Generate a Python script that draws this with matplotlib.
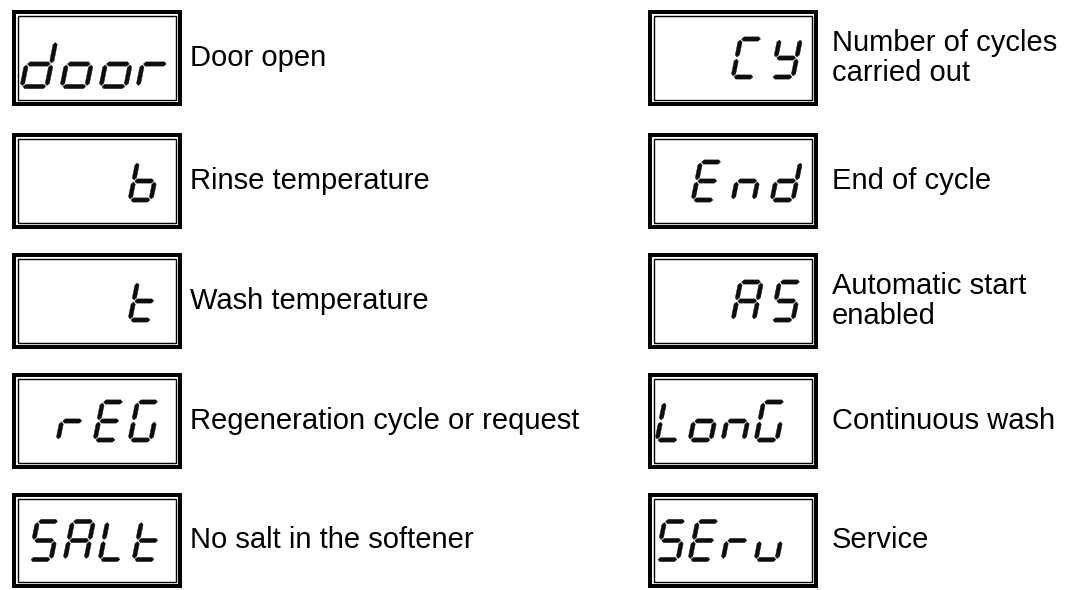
import matplotlib
matplotlib.use("Agg")
import matplotlib.pyplot as plt
from matplotlib.patches import Polygon, Rectangle

# ---------------- data ----------------
left_codes = ["door", "b", "t", "rEG", "SALt"]
left_labels = ["Door open", "Rinse temperature", "Wash temperature",
               "Regeneration cycle or request", "No salt in the softener"]
right_codes = ["Cy", "End", "AS", "LonG", "SEru"]
right_labels = ["Number of cycles\ncarried out", "End of cycle",
                "Automatic start\nenabled", "Continuous wash", "Service"]

# seven-segment glyph definitions (segments a..g)
SEGMENTS = {
    "d": "bcdeg", "o": "cdeg", "r": "eg", "b": "cdefg", "t": "defg",
    "C": "adef", "y": "bcdfg", "E": "adefg", "n": "ceg", "A": "abcefg",
    "S": "acdfg", "L": "def", "G": "acdef", "u": "cde",
}

# ---------------- layout ----------------
W, H = 1080, 590
fig = plt.figure(figsize=(W / 100, H / 100), dpi=100)
ax = fig.add_axes([0, 0, 1, 1])
ax.set_xlim(0, W)
ax.set_ylim(H, 0)
ax.axis("off")

row_tops = [10, 133, 253, 373, 493]
box_h = 96
left_box_x = (12, 182)
right_box_x = (648, 818)
left_slots = [21, 58, 95, 130]
right_slots = [653, 693, 733, 772]
layout_left = {
    "door": dict(slots=[22, 62, 101, 138], h=45, dy=6),
    "SALt": dict(slots=[30, 65, 100, 134], h=38, dy=0),
}
layout_right = {
    "LonG": dict(slots=[657, 690, 723, 756], h=38, dy=0),
    "SEru": dict(slots=[657, 690, 723, 756], h=38, dy=0),
}
PX = 72 / 100  # points per pixel


def draw_box(x0, x1, y0, y1):
    ax.add_patch(Rectangle((x0 + 2, y0 + 2), x1 - x0 - 4, y1 - y0 - 4,
                           fill=False, lw=4 * PX, ec="black"))
    ax.add_patch(Rectangle((x0 + 6, y0 + 6), x1 - x0 - 12, y1 - y0 - 12,
                           fill=False, lw=1.4 * PX, ec="black"))


def seg_poly(p0, p1, t):
    (x0, y0), (x1, y1) = p0, p1
    if y0 == y1:  # horizontal
        return [(x0, y0), (x0 + t / 2, y0 + t / 2), (x1 - t / 2, y0 + t / 2),
                (x1, y0), (x1 - t / 2, y0 - t / 2), (x0 + t / 2, y0 - t / 2)]
    return [(x0, y0), (x0 + t / 2, y0 + t / 2), (x0 + t / 2, y1 - t / 2),
            (x1, y1), (x0 - t / 2, y1 - t / 2), (x0 - t / 2, y0 + t / 2)]


def draw_digit(ch, left, bottom, h, slant=0.2, t=4.2):
    w = 0.55 * h
    g = 1.0
    segs = {
        "a": ((g, h), (w - g, h)),
        "b": ((w, h / 2 + g), (w, h - g)),
        "c": ((w, g), (w, h / 2 - g)),
        "d": ((g, 0), (w - g, 0)),
        "e": ((0, g), (0, h / 2 - g)),
        "f": ((0, h / 2 + g), (0, h - g)),
        "g": ((g, h / 2), (w - g, h / 2)),
    }
    for s in SEGMENTS[ch]:
        pts = seg_poly(*segs[s], t)
        pts = [(left + x + slant * y, bottom - y) for x, y in pts]
        ax.add_patch(Polygon(pts, closed=True, fc="#0d0d0d", ec="#0d0d0d",
                             lw=0.3, joinstyle="round"))


def draw_code(code, slots, yc, h):
    for ch, sx in zip(code, slots[-len(code):]):
        draw_digit(ch, sx, yc + h / 2, h)


font = ["Liberation Sans", "DejaVu Sans"]


def draw_column(codes, labels, box_x, slots, special, text_x):
    for i, (code, label) in enumerate(zip(codes, labels)):
        y0 = row_tops[i]
        y1 = min(y0 + box_h, H - 2)
        draw_box(*box_x, y0, y1)
        yc = (y0 + y1) / 2
        lay = special.get(code, dict(slots=slots, h=38, dy=0))
        draw_code(code, lay["slots"], yc + lay["dy"], lay["h"])
        ax.text(text_x, yc, label, ha="left", va="center", fontsize=21,
                family=font, color="black", linespacing=1.1)


draw_column(left_codes, left_labels, left_box_x, left_slots, layout_left, 190)
draw_column(right_codes, right_labels, right_box_x, right_slots, layout_right, 832)

fig.savefig("out.png", dpi=100, facecolor="white")
